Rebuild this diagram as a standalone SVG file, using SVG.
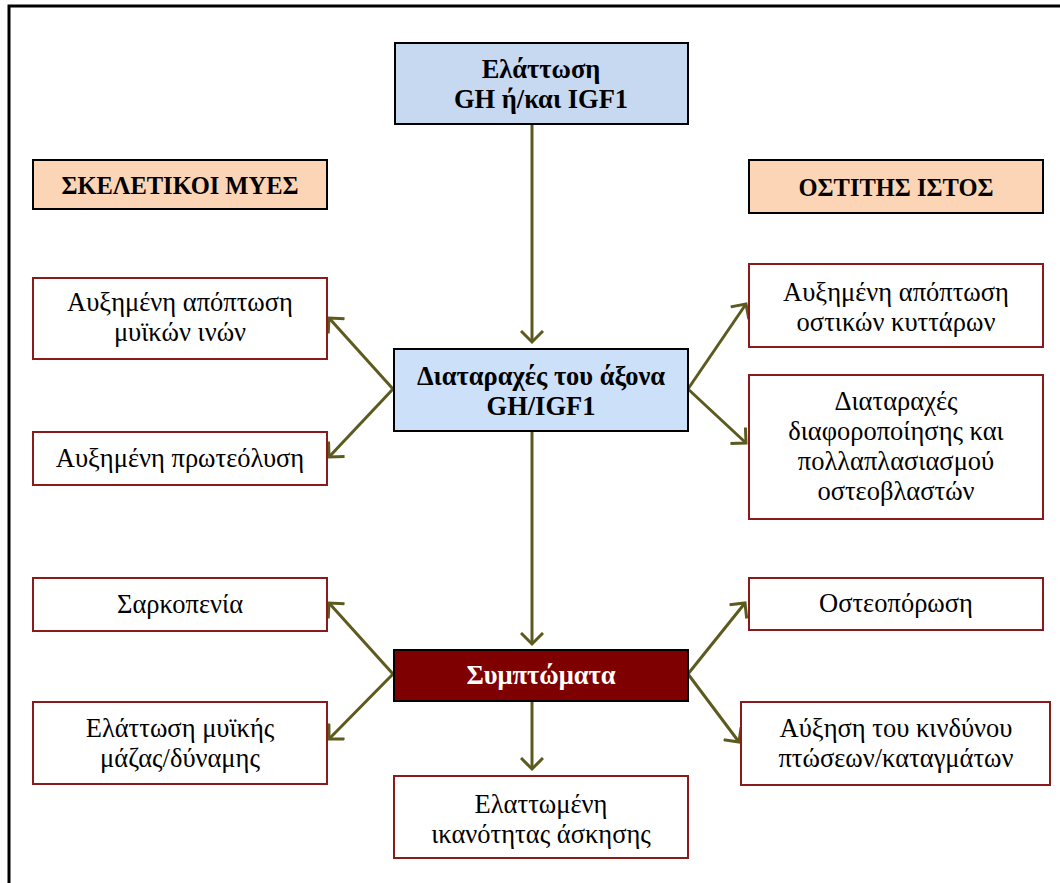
<svg xmlns="http://www.w3.org/2000/svg" width="1060" height="883" viewBox="0 0 1060 883">
<defs>
<style>
.frame{fill:none;stroke:#000;stroke-width:3}
.blue{fill:#c6d9f1;stroke:#000;stroke-width:2}
.blue2{fill:#cce0fa;stroke:#000;stroke-width:2}
.peach{fill:#fbd5b5;stroke:#000;stroke-width:2}
.red{fill:#fff;stroke:#8b1a1a;stroke-width:2}
.sym{fill:#7f0000;stroke:#000;stroke-width:2}
text{font-family:"Liberation Serif","Times New Roman",serif;font-size:26.5px;fill:#000;text-anchor:middle}
.b{font-weight:bold}
.h{font-size:24.5px}
.w{fill:#fff}
.c{stroke:#5c5a1e;stroke-width:3;fill:none}
</style>
<marker id="ah" markerWidth="24" markerHeight="24" refX="12" refY="12" orient="auto" markerUnits="userSpaceOnUse">
<path d="M1,1 L12,12 L1,23" fill="none" stroke="#5c5a1e" stroke-width="3"/>
</marker>
</defs>
<rect width="1060" height="883" fill="#fff"/>
<rect class="frame" x="9" y="6" width="1060" height="890"/>
<g id="connectors">
<line class="c" x1="532" y1="124" x2="532" y2="342" marker-end="url(#ah)"/>
<line class="c" x1="532" y1="432" x2="532" y2="644" marker-end="url(#ah)"/>
<line class="c" x1="393" y1="389" x2="329" y2="318" marker-end="url(#ah)"/>
<line class="c" x1="393" y1="389" x2="329" y2="457" marker-end="url(#ah)"/>
<line class="c" x1="688" y1="389" x2="746" y2="304" marker-end="url(#ah)"/>
<line class="c" x1="688" y1="389" x2="746" y2="443" marker-end="url(#ah)"/>
<line class="c" x1="393" y1="674" x2="329" y2="603" marker-end="url(#ah)"/>
<line class="c" x1="393" y1="674" x2="329" y2="739" marker-end="url(#ah)"/>
<line class="c" x1="688" y1="674" x2="745" y2="603" marker-end="url(#ah)"/>
<line class="c" x1="688" y1="674" x2="739" y2="742" marker-end="url(#ah)"/>
<line class="c" x1="532" y1="701" x2="532" y2="769" marker-end="url(#ah)"/>
</g>
<g id="n_top">
<rect class="blue" x="395" y="43" width="293" height="81"/>
<text class="b" x="541" y="78">Ελάττωση</text>
<text class="b" x="541" y="108">GH ή/και IGF1</text>
</g>
<g id="n_skel">
<rect class="peach" x="33" y="160" width="294" height="49"/>
<text class="b h" x="180" y="194">ΣΚΕΛΕΤΙΚΟΙ ΜΥΕΣ</text>
</g>
<g id="n_bone">
<rect class="peach" x="749" y="160" width="294" height="53"/>
<text class="b h" x="896" y="196">ΟΣΤΙΤΗΣ ΙΣΤΟΣ</text>
</g>
<g id="n_l1">
<rect class="red" x="33" y="278" width="294" height="81"/>
<text x="180" y="311">Αυξημένη απόπτωση</text>
<text x="180" y="341">μυϊκών ινών</text>
</g>
<g id="n_l2">
<rect class="red" x="33" y="432" width="294" height="53"/>
<text x="180" y="467">Αυξημένη πρωτεόλυση</text>
</g>
<g id="n_center">
<rect class="blue2" x="394" y="349" width="294" height="82"/>
<text class="b" x="541" y="385">Διαταραχές του άξονα</text>
<text class="b" x="541" y="415">GH/IGF1</text>
</g>
<g id="n_r1">
<rect class="red" x="749" y="264" width="294" height="83"/>
<text x="896" y="301">Αυξημένη απόπτωση</text>
<text x="896" y="331">οστικών κυττάρων</text>
</g>
<g id="n_r2">
<rect class="red" x="749" y="375" width="294" height="144"/>
<text x="896" y="410">Διαταραχές</text>
<text x="896" y="440">διαφοροποίησης και</text>
<text x="896" y="470">πολλαπλασιασμού</text>
<text x="896" y="500">οστεοβλαστών</text>
</g>
<g id="n_l3">
<rect class="red" x="33" y="578" width="294" height="53"/>
<text x="180" y="613">Σαρκοπενία</text>
</g>
<g id="n_r3">
<rect class="red" x="749" y="578" width="294" height="52"/>
<text x="896" y="612">Οστεοπόρωση</text>
</g>
<g id="n_sym">
<rect class="sym" x="394" y="650" width="294" height="51"/>
<text class="b w" x="541" y="684">Συμπτώματα</text>
</g>
<g id="n_l4">
<rect class="red" x="33" y="702" width="294" height="82"/>
<text x="180" y="737">Ελάττωση μυϊκής</text>
<text x="180" y="767">μάζας/δύναμης</text>
</g>
<g id="n_r4">
<rect class="red" x="741" y="702" width="309" height="83"/>
<text x="896" y="737">Αύξηση του κινδύνου</text>
<text x="896" y="767">πτώσεων/καταγμάτων</text>
</g>
<g id="n_bottom">
<rect class="red" x="394" y="776" width="294" height="82"/>
<text x="541" y="813">Ελαττωμένη</text>
<text x="541" y="843">ικανότητας άσκησης</text>
</g>
</svg>
